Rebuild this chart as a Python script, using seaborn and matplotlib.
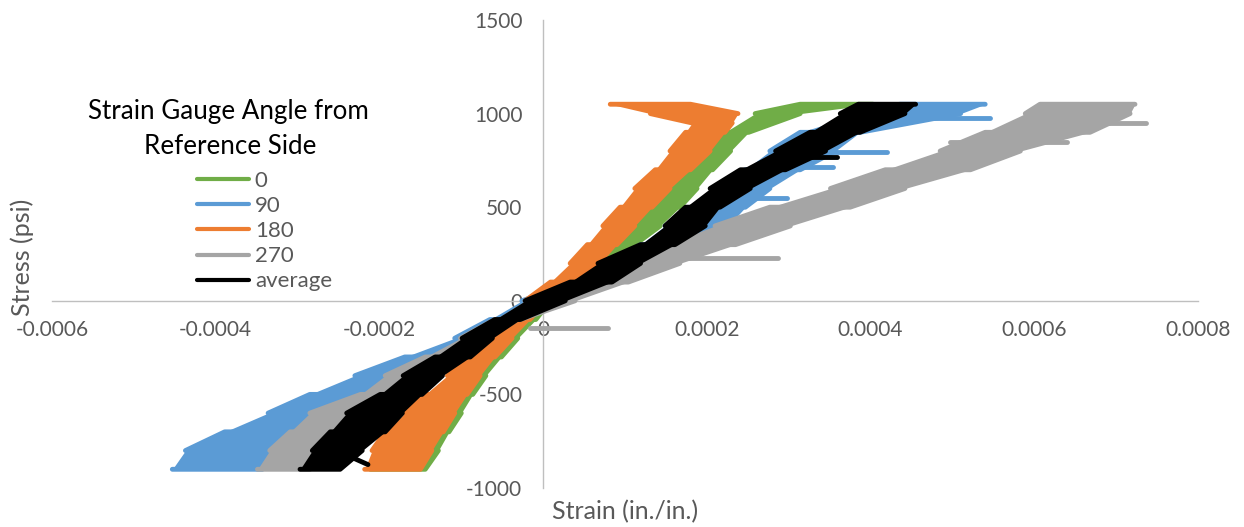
import pandas as pd
import matplotlib.pyplot as plt
import matplotlib.ticker as mticker
from matplotlib.lines import Line2D
import seaborn as sns

# Set style
sns.set_theme(style="white")
plt.rcParams['font.family'] = ['Lato', 'DejaVu Sans']

TXT = '#595959'
AXIS_CLR = '#BFBFBF'

LABELS = ['0', '90', '180', '270', 'average']
COLORS = ['#70AD47', '#5B9BD5', '#ED7D31', '#A5A5A5', '#000000']

# --- Band edges (strain in microstrain, stress in psi) ---
stress_std = [-900, -800, -700, -600, -500, -400, -300, -200, -100, 0,
              100, 200, 300, 400, 500, 600, 700, 800, 900, 1000, 1050]
stress_180 = [-900, -800, -700, -600, -500, -400, -300, -200, -100, 0,
              100, 200, 300, 400, 500, 600, 700, 800, 900, 950, 1000, 1050]

lo_0 = [-211, -202, -187, -163, -138, -114, -89, -65, -40, -16,
        27, 57, 84, 112, 134, 155, 180, 198, 222, 259, 314]
hi_0 = [-144, -128, -115, -100, -86, -70, -51, -31, -9, 9,
        51, 84, 112, 143, 167, 188, 207, 229, 251, 314, 403]

lo_90 = [-453, -437, -389, -336, -285, -230, -169, -108, -65, -26,
         39, 82, 119, 149, 186, 216, 247, 277, 314, 387, 436]
hi_90 = [-343, -334, -303, -266, -224, -175, -126, -77, -38, 2,
         82, 119, 180, 226, 247, 277, 314, 357, 387, 510, 540]

lo_180 = [-218, -209, -193, -169, -144, -117, -93, -68, -43, -22,
          9, 33, 54, 73, 94, 112, 137, 155, 174, 182, 131, 82]
hi_180 = [-150, -136, -122, -108, -93, -77, -59, -38, -16, 2,
          39, 70, 90, 112, 133, 155, 180, 204, 222, 231, 238, 180]

lo_270 = [-349, -334, -309, -285, -223, -193, -144, -101, -59, -22,
          51, 100, 149, 210, 277, 351, 418, 485, 540, 589, 607]
hi_270 = [-285, -275, -252, -224, -181, -144, -101, -65, -28, 39,
          104, 167, 235, 302, 375, 442, 522, 583, 668, 717, 723]

lo_avg = [-297, -282, -260, -240, -199, -171, -132, -99, -59, -22,
          33, 67, 119, 149, 174, 204, 241, 284, 326, 363, 385]
hi_avg = [-248, -221, -193, -172, -148, -123, -89, -62, -28, 27,
          84, 119, 161, 198, 216, 253, 296, 345, 387, 442, 455]

# stray excursions: strain start, strain end (microstrain), stress start, stress end (psi)
spike_90 = ([241, 290, 351, 473], [298, 354, 420, 546], [550, 715, 795, 975], [550, 715, 795, 975])
spike_270 = ([-16, 131, 497, 656], [79, 287, 640, 736], [-145, 230, 850, 950], [-145, 230, 850, 950])
spike_avg = ([-236, 302], [-214, 359], [-832, 770], [-875, 770])
spike_none = ([], [], [], [])

SERIES = [
    (stress_std, lo_0, hi_0, spike_none),
    (stress_std, lo_90, hi_90, spike_90),
    (stress_180, lo_180, hi_180, spike_none),
    (stress_std, lo_270, hi_270, spike_270),
    (stress_std, lo_avg, hi_avg, spike_avg),
]

X_TICKS = [-0.0006, -0.0004, -0.0002, 0, 0.0002, 0.0004, 0.0006, 0.0008]
Y_TICKS = [-1000, -500, 0, 500, 1000, 1500]

LW = 3.5


def band_path(levels, lo, hi):
    """Zig-zag across the band so the trace looks like the noisy loading loop."""
    xs, ys = [], []
    for i, s in enumerate(levels):
        a, b = (lo[i], hi[i]) if i % 2 == 0 else (hi[i], lo[i])
        xs += [a * 1e-6, b * 1e-6]
        ys += [s, s]
    return pd.DataFrame({'strain': xs, 'stress': ys})


fig = plt.figure(figsize=(12.44, 5.27), dpi=100)
ax = fig.add_axes([52 / 1244, 39 / 527, 1146 / 1244, 468 / 527])

for i, (levels, lo, hi, spikes) in enumerate(SERIES):
    z = 3 + i * 0.1
    ax.fill_betweenx(levels, [v * 1e-6 for v in lo], [v * 1e-6 for v in hi],
                     color=COLORS[i], lw=0, zorder=z)
    df = band_path(levels, lo, hi)
    sns.lineplot(data=df, x='strain', y='stress', sort=False, estimator=None,
                 color=COLORS[i], lw=LW, solid_joinstyle='round',
                 solid_capstyle='round', zorder=z + 0.01, ax=ax)
    for x0, x1, y0, y1 in zip(*spikes):
        ax.plot([x0 * 1e-6, x1 * 1e-6], [y0, y1], color=COLORS[i], lw=LW,
                solid_capstyle='round', zorder=z + 0.02)

ax.set_xlim(-0.0006, 0.0008)
ax.set_ylim(-1000, 1500)
ax.set_xticks(X_TICKS)
ax.set_yticks(Y_TICKS)
ax.xaxis.set_major_formatter(mticker.FuncFormatter(lambda v, p: f"{v:g}"))
ax.yaxis.set_major_formatter(mticker.FuncFormatter(lambda v, p: f"{v:g}"))
ax.set_xlabel('')
ax.set_ylabel('')

for side in ['top', 'right']:
    ax.spines[side].set_visible(False)
for side in ['left', 'bottom']:
    ax.spines[side].set_position(('data', 0))
    ax.spines[side].set_color(AXIS_CLR)
    ax.spines[side].set_linewidth(1.0)
    ax.spines[side].set_zorder(2)

ax.tick_params(axis='both', direction='out', length=5, width=1.0,
               color=AXIS_CLR, labelcolor=TXT, labelsize=15)
ax.tick_params(axis='x', pad=9)
ax.tick_params(axis='y', pad=10)
ax.set_facecolor('white')

# axis titles
fig.text(22 / 1244, 1 - 257 / 527, 'Stress (psi)', rotation=90, ha='center',
         va='center', fontsize=18, color=TXT)
fig.text(552 / 1244, 1 - 512 / 527, 'Strain (in./in.)', ha='left',
         va='center', fontsize=18, color=TXT)

# legend
fig.text(228 / 1244, 1 - 112 / 527, 'Strain Gauge Angle from', ha='center',
         va='center', fontsize=18.7, color='black')
fig.text(230 / 1244, 1 - 146 / 527, 'Reference Side', ha='center',
         va='center', fontsize=18.7, color='black')
handles = [Line2D([0], [0], color=c, lw=3) for c in COLORS]
leg = ax.legend(handles, LABELS, loc='upper left',
                bbox_to_anchor=(197 / 1244, 1 - 171 / 527),
                bbox_transform=fig.transFigure, frameon=False, fontsize=16,
                handlelength=2.35, handletextpad=0.25, labelspacing=0.23,
                borderpad=0, borderaxespad=0)
for t in leg.get_texts():
    t.set_color(TXT)

fig.savefig('out.png', dpi=100, facecolor='white')
